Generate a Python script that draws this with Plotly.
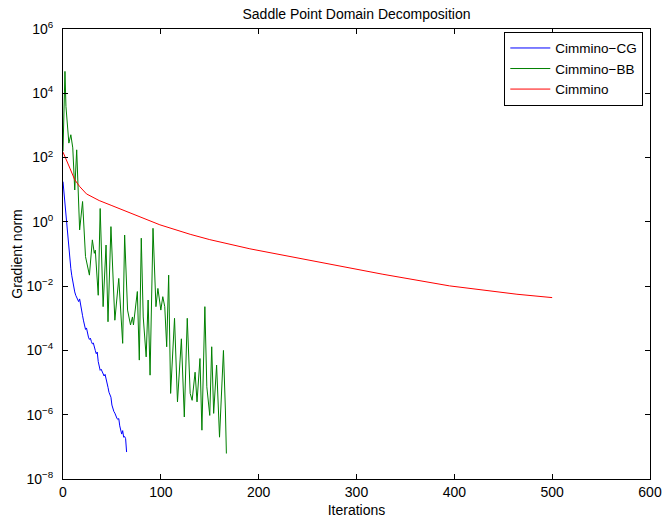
import plotly.graph_objects as go

# ---- data ----
cg_iter = list(range(0, 66))
cg_norm = [17.8, 7.9, 3.5, 1.6, 0.63, 0.28, 0.126, 0.065, 0.035, 0.021,
           0.0126, 8.9e-3, 6.6e-3, 5.2e-3, 4.4e-3, 3.7e-3, 3.3e-3, 4.0e-3, 2.4e-3, 1.8e-3,
           1.2e-3, 8.3e-4, 5.8e-4, 4.5e-4, 5.0e-4, 3.0e-4, 2.6e-4, 2.2e-4, 2.4e-4, 1.9e-4,
           1.6e-4, 1.7e-4, 1.2e-4, 1.0e-4, 7.9e-5, 8.9e-5, 4.5e-5, 2.8e-5, 2.4e-5, 2.6e-5,
           2.1e-5, 1.9e-5, 1.6e-5, 1.8e-5, 1.2e-5, 8.9e-6, 7.1e-6, 5.0e-6, 4.2e-6, 3.5e-6,
           2.0e-6, 1.4e-6, 1.26e-6, 1.12e-6, 8.9e-7, 7.9e-7, 7.1e-7, 7.6e-7, 4.5e-7, 2.8e-7,
           2.5e-7, 3.2e-7, 2.0e-7, 2.1e-7, 1.8e-7, 6.9e-8]

bb_iter = [0, 2, 3, 6, 8, 10, 12, 14, 17, 20, 23, 27, 30, 32, 33, 36, 38, 41, 44, 46,
           49, 53, 57, 61, 63, 66, 69, 71, 72, 76, 78, 80, 82, 85, 87, 89, 92, 95, 97, 100,
           102, 104, 106, 108, 110, 114, 117, 121, 124, 127, 130, 132, 135, 137, 140, 142,
           145, 147, 150, 152, 154, 157, 160, 164, 166, 167]
bb_norm = [158, 4.8e4, 3.9e3, 282, 513, 200, 9.8, 174, 0.56, 4.3, 0.083, 0.022, 0.275,
           0.105, 0.132, 5.2e-3, 2.6, 2.3e-3, 0.19, 7.8e-4, 0.71, 8.7e-4, 0.0174, 1.66e-4,
           0.39, 1.8e-3, 6.2e-4, 1.1e-3, 6.2e-4, 6.8e-3, 5.0e-5, 0.31, 1.1e-3, 6.3e-5,
           3.7e-3, 1.7e-5, 0.63, 2.3e-3, 8.5e-3, 1.8e-3, 4.7e-3, 2.3e-3, 1.3e-4, 0.022,
           4.6e-6, 1.0e-3, 2.5e-6, 2.3e-4, 8.5e-7, 1.0e-3, 4.6e-6, 2.8e-6, 2.1e-5, 2.5e-6,
           5.6e-5, 3.3e-7, 2.3e-3, 7.4e-6, 9.5e-7, 1.3e-4, 1.1e-6, 3.5e-5, 2.0e-7, 1.0e-4,
           1.4e-6, 6.2e-8]

cim_iter = [0, 3, 7, 12, 17, 24, 37, 50, 65, 80, 99, 130, 150, 191, 259, 327, 395, 464, 500]
cim_norm = [148, 85, 47, 20.4, 12.6, 7.4, 4.6, 3.2, 2.1, 1.41, 0.81, 0.41, 0.28, 0.145,
            0.0575, 0.0234, 0.0102, 0.0056, 0.0044]

x_ticks = [0, 100, 200, 300, 400, 500, 600]
y_ticks = [1e-8, 1e-6, 1e-4, 1e-2, 1e0, 1e2, 1e4, 1e6]
y_ticktext = ["10<sup>\u22128</sup>", "10<sup>\u22126</sup>", "10<sup>\u22124</sup>",
              "10<sup>\u22122</sup>", "10<sup>0</sup>", "10<sup>2</sup>",
              "10<sup>4</sup>", "10<sup>6</sup>"]

FONT = "Liberation Sans, Arial, Helvetica, sans-serif"

fig = go.Figure()
fig.add_trace(go.Scatter(x=cg_iter, y=cg_norm, mode="lines", name="Cimmino\u2212CG",
                         line=dict(color="#0000ff", width=1)))
fig.add_trace(go.Scatter(x=bb_iter, y=bb_norm, mode="lines", name="Cimmino\u2212BB",
                         line=dict(color="#008000", width=1)))
fig.add_trace(go.Scatter(x=cim_iter, y=cim_norm, mode="lines", name="Cimmino",
                         line=dict(color="#ff0000", width=1)))

fig.update_layout(
    width=663, height=520,
    margin=dict(l=63, r=13, t=29, b=41),
    paper_bgcolor="white", plot_bgcolor="white",
    font=dict(family=FONT, size=14, color="black"),
    title=dict(text="Saddle Point Domain Decomposition", x=0.5, xref="paper",
               y=1 - 14 / 520, yanchor="middle", yref="container",
               font=dict(size=14, family=FONT)),
    legend=dict(x=0.9886, y=0.994, xanchor="right", yanchor="top",
                bgcolor="white", bordercolor="black", borderwidth=1,
                font=dict(size=13.5, family=FONT), tracegroupgap=0, itemwidth=40),
    showlegend=True,
)
fig.update_xaxes(range=[0, 600], tickvals=x_ticks, showgrid=False, zeroline=False,
                 showline=True, linecolor="black", linewidth=1, mirror="ticks",
                 ticks="inside", ticklen=5, tickcolor="black", automargin=False,
                 title=dict(text="Iterations", standoff=6, font=dict(size=14)))
fig.update_yaxes(type="log", range=[-8, 6], tickvals=y_ticks, ticktext=y_ticktext,
                 showgrid=False, zeroline=False, automargin=False,
                 showline=True, linecolor="black", linewidth=1, mirror="ticks",
                 ticks="inside", ticklen=5, tickcolor="black", ticklabelstandoff=6,
                 title=dict(text="Gradient norm", standoff=0, font=dict(size=14)))

fig.write_html("out.html")
